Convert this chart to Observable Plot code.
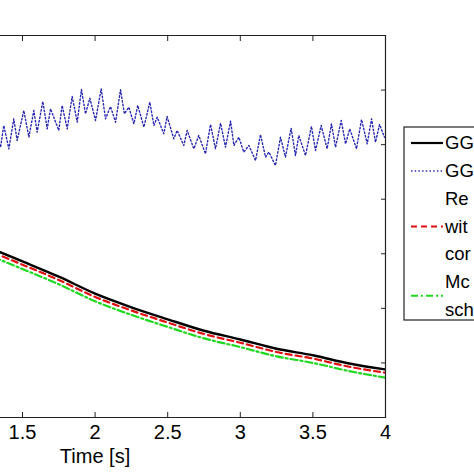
<!DOCTYPE html>
<html><head><meta charset="utf-8">
<script src="https://cdn.jsdelivr.net/npm/d3@7"></script>
<script src="https://cdn.jsdelivr.net/npm/@observablehq/plot@0.6"></script>
<style>
html,body{margin:0;padding:0;background:#fff;overflow:hidden;width:474px;height:474px}
#chart{position:relative;width:474px;height:474px;overflow:hidden}
</style></head><body><div id="chart"></div>
<script>
// ---- data ----
const xTicks = [1.5, 2, 2.5, 3, 3.5, 4];
const yTicks = [1, 2, 3, 4, 5, 6];
const xLabel = "Time [s]";

const timeSmooth = [1.3, 1.5, 1.75, 2, 2.25, 2.5, 2.75, 3, 3.25, 3.5, 3.75, 4];
const ggSolid    = [3.08, 2.86, 2.58, 2.27, 2.02, 1.80, 1.59, 1.43, 1.26, 1.14, 0.99, 0.88];
const refDashed  = [3.02, 2.80, 2.52, 2.21, 1.96, 1.74, 1.53, 1.37, 1.20, 1.08, 0.93, 0.82];
const modelDashDot = [2.94, 2.72, 2.44, 2.13, 1.88, 1.66, 1.45, 1.29, 1.12, 1.00, 0.85, 0.73];

const timeDotted = [1.32,1.349,1.371,1.406,1.440,1.463,1.509,1.544,1.578,1.601,1.640,1.670,1.693,1.750,1.773,1.808,1.842,1.877,1.906,1.934,1.964,2.003,2.042,2.072,2.106,2.141,2.175,2.202,2.232,2.267,2.294,2.336,2.377,2.405,2.428,2.473,2.496,2.542,2.565,2.611,2.634,2.680,2.714,2.760,2.795,2.829,2.864,2.898,2.933,2.956,2.990,3.024,3.059,3.105,3.139,3.174,3.197,3.242,3.277,3.311,3.350,3.380,3.403,3.449,3.490,3.518,3.557,3.598,3.628,3.656,3.695,3.725,3.754,3.800,3.835,3.874,3.904,3.931,3.959,3.993];
const ggDotted = [5.20,4.954,5.351,4.924,5.473,5.076,5.626,5.137,5.626,5.229,5.791,5.290,5.657,5.260,5.718,5.290,5.883,5.412,6.011,5.565,5.852,5.443,6.023,5.473,5.699,5.412,6.005,5.565,5.687,5.382,5.718,5.321,5.779,5.351,5.504,5.199,5.516,5.107,5.260,4.985,5.260,4.924,5.168,4.832,5.370,4.924,5.394,4.954,5.431,4.985,5.137,4.863,4.985,4.710,5.186,4.771,4.863,4.618,5.137,4.771,5.302,4.802,5.168,4.802,5.333,4.893,5.351,4.924,5.382,4.954,5.443,5.015,5.290,4.924,5.461,5.015,5.473,5.046,5.369,5.137];

const legendEntries = [
  {lines: ["GG"], color: "#000000", dash: null, width: 2.2},
  {lines: ["GG"], color: "#3030b0", dash: "1.5,2.2", width: 1.3},
  {lines: ["Re", "wit", "cor"], color: "#e01010", dash: "6,4", width: 2.2},
  {lines: ["Mc", "sch"], color: "#20d820", dash: "7,3,2,3", width: 2.2}
];

// ---- build tables ----
const smooth = timeSmooth.map((t, i) => ({t, gg: ggSolid[i], ref: refDashed[i], model: modelDashDot[i]}));
const dotted = timeDotted.map((t, i) => ({t, v: ggDotted[i]}));

const W = 474, H = 474;
const FONT = "'Liberation Sans', Arial, Helvetica, sans-serif";
const FS = 20;
const LFS = 18.5;

const chart = Plot.plot({
  width: W, height: H,
  marginLeft: 0, marginRight: 89, marginTop: 35, marginBottom: 57,
  x: {domain: [1.3485, 4]},
  y: {domain: [0, 7]},
  style: {fontFamily: FONT, fontSize: FS + "px", color: "black", background: "white", overflow: "visible"},
  marks: [
    Plot.line(dotted, {x: "t", y: "v", stroke: "#2828b4", strokeWidth: 1.4, strokeDasharray: "1.5,2.2", clip: true}),
    Plot.line(smooth, {x: "t", y: "model", stroke: "#20d820", strokeWidth: 2.2, strokeDasharray: "7,3,2,3", curve: "monotone-x", clip: true}),
    Plot.line(smooth, {x: "t", y: "ref", stroke: "#e01010", strokeWidth: 2.2, strokeDasharray: "6,4", curve: "monotone-x", clip: true}),
    Plot.line(smooth, {x: "t", y: "gg", stroke: "#000", strokeWidth: 2.4, curve: "monotone-x", clip: true}),
    Plot.frame({anchor: "top", stroke: "#222", strokeWidth: 1.2}),
    Plot.frame({anchor: "right", stroke: "#222", strokeWidth: 1.2}),
    Plot.frame({anchor: "bottom", stroke: "#222", strokeWidth: 1.2}),
    Plot.axisX({anchor: "bottom", ticks: xTicks, tickSize: 0, tickPadding: 7, tickFormat: d => String(d), label: null, fontSize: FS}),
    Plot.axisX({anchor: "bottom", ticks: xTicks, tickSize: -5, text: null, label: null, stroke: "#222"}),
    Plot.axisX({anchor: "top", ticks: xTicks, tickSize: -5, text: null, label: null, stroke: "#222"}),
    Plot.axisY({anchor: "right", ticks: yTicks, tickSize: -5, text: null, label: null, stroke: "#222"})
  ]
});
document.getElementById("chart").appendChild(chart);

// x-axis title (centred under the full original axis)
const svg = d3.select(chart);
svg.append("text")
  .attr("x", 95).attr("y", 456).attr("dy", "0.35em")
  .attr("text-anchor", "middle")
  .style("font-family", FONT).style("font-size", FS + "px").attr("fill", "black")
  .text(xLabel);

// legend box
const lg = svg.append("g").attr("text-anchor", "start");
lg.append("rect").attr("x", 404).attr("y", 127).attr("width", 100).attr("height", 193)
  .attr("fill", "white").attr("stroke", "#222").attr("stroke-width", 1.2);
let yCur = 143;
const pitch = 27.5;
legendEntries.forEach(e => {
  const n = e.lines.length;
  const mid = yCur + (n - 1) * pitch / 2;
  const ln = lg.append("line").attr("x1", 411).attr("x2", 443).attr("y1", mid).attr("y2", mid)
    .attr("stroke", e.color).attr("stroke-width", e.width);
  if (e.dash) ln.attr("stroke-dasharray", e.dash);
  e.lines.forEach((s, j) => {
    lg.append("text").attr("x", 445).attr("y", yCur + j * pitch).attr("dy", "0.35em")
      .attr("text-anchor", "start")
      .style("font-family", FONT).style("font-size", LFS + "px").attr("fill", "black").text(s);
  });
  yCur += n * pitch + 0.5;
});
</script>
</body></html>
